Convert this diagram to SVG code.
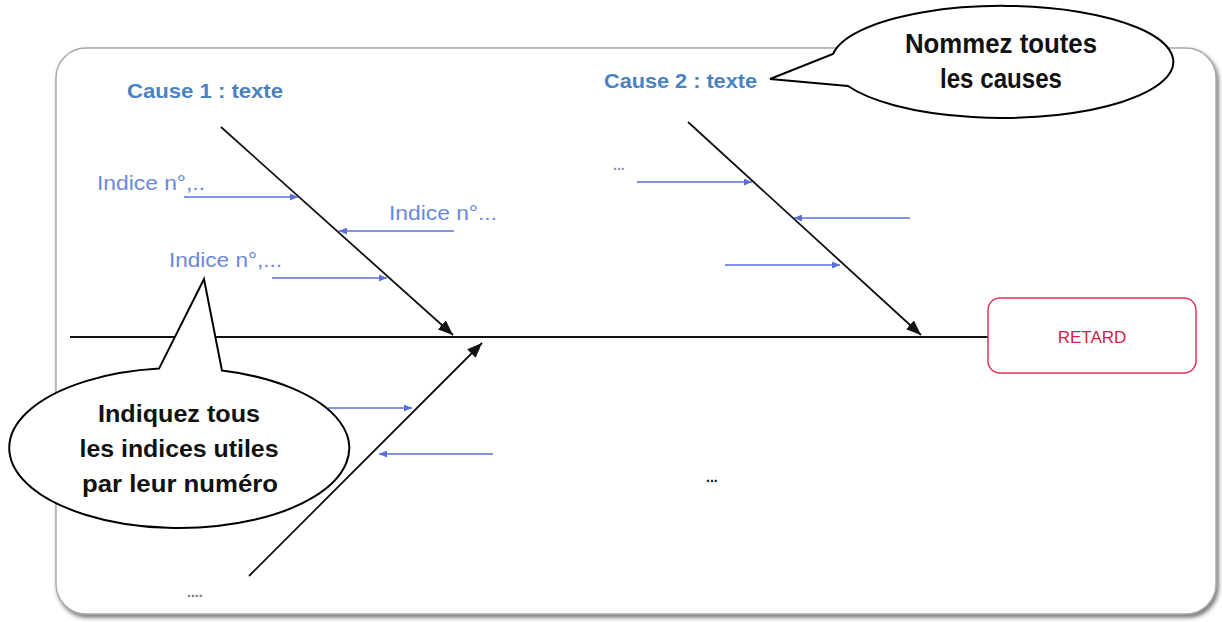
<svg xmlns="http://www.w3.org/2000/svg" width="1222" height="622" viewBox="0 0 1222 622">
  <style>
    .bone { stroke: #111; stroke-width: 1.8; fill: none; }
    .sub { stroke: #5a6fdc; stroke-width: 1.6; fill: none; }
    .cause { font-family: "Liberation Sans", Arial, sans-serif; font-weight: bold; font-size: 21px; fill: #4a82c2; }
    .ind { font-family: "Liberation Sans", Arial, sans-serif; font-size: 21px; fill: #6a88dc; }
    .call { fill: #fff; stroke: #000; stroke-width: 2; }
    .ctext { font-family: "Liberation Sans", Arial, sans-serif; font-weight: bold; fill: #111; text-anchor: middle; }
    .dots { font-family: "Liberation Sans", Arial, sans-serif; font-weight: bold; font-size: 14px; }
  </style>
  <defs>
    <filter id="sh" x="-5%" y="-5%" width="110%" height="115%">
      <feDropShadow dx="2" dy="3" stdDeviation="2" flood-color="#555" flood-opacity="0.8"/>
    </filter>
    <marker id="ah" markerUnits="userSpaceOnUse" markerWidth="16" markerHeight="12" refX="15" refY="6" orient="auto">
      <path d="M0,0 L15,6 L0,12 z" fill="#111"/>
    </marker>
    <marker id="bh" markerUnits="userSpaceOnUse" markerWidth="9" markerHeight="7" refX="8" refY="3.5" orient="auto">
      <path d="M0,0 L8,3.5 L0,7 z" fill="#5a6fdc"/>
    </marker>
  </defs>

  <rect x="0" y="0" width="1222" height="622" fill="#fff"/>
  <g id="panel">
    <rect x="56" y="48" width="1160" height="566" rx="30" fill="#fff" stroke="#aaa" stroke-width="1.5" filter="url(#sh)"/>
  </g>

  <g id="connectors">
    <line class="bone" x1="70" y1="337" x2="988" y2="337"/>
    <line class="bone" x1="221" y1="127" x2="453" y2="335" marker-end="url(#ah)"/>
    <line class="bone" x1="688" y1="122" x2="921" y2="335" marker-end="url(#ah)"/>
    <line class="bone" x1="249" y1="576" x2="482" y2="343" marker-end="url(#ah)"/>

    <line class="sub" x1="184" y1="197" x2="298" y2="197" marker-end="url(#bh)"/>
    <line class="sub" x1="454" y1="231" x2="339" y2="231" marker-end="url(#bh)"/>
    <line class="sub" x1="272" y1="278" x2="387" y2="278" marker-end="url(#bh)"/>

    <line class="sub" x1="637" y1="182" x2="752" y2="182" marker-end="url(#bh)"/>
    <line class="sub" x1="910" y1="218" x2="794" y2="218" marker-end="url(#bh)"/>
    <line class="sub" x1="725" y1="265" x2="840" y2="265" marker-end="url(#bh)"/>

    <line class="sub" x1="328" y1="408" x2="412" y2="408" marker-end="url(#bh)"/>
    <line class="sub" x1="493" y1="454" x2="379" y2="454" marker-end="url(#bh)"/>
  </g>

  <g id="retard">
    <rect x="988" y="298" width="208" height="75" rx="12" fill="#fff" stroke="#e0355a" stroke-width="1.5"/>
    <text x="1092" y="343" font-family="Liberation Sans, Arial, sans-serif" font-size="17" fill="#d42048" text-anchor="middle">RETARD</text>
  </g>

  <g id="cause1">
    <text class="cause" x="127" y="98" textLength="156" lengthAdjust="spacingAndGlyphs">Cause 1 : texte</text>
  </g>
  <g id="cause2">
    <text class="cause" x="604" y="88" textLength="153" lengthAdjust="spacingAndGlyphs">Cause 2 : texte</text>
  </g>

  <g id="indices">
    <text class="ind" x="97" y="190" textLength="108" lengthAdjust="spacingAndGlyphs">Indice n°,..</text>
    <text class="ind" x="389" y="220" textLength="108" lengthAdjust="spacingAndGlyphs">Indice n°...</text>
    <text class="ind" x="169" y="267" textLength="113" lengthAdjust="spacingAndGlyphs">Indice n°,...</text>
    <text class="dots" x="613" y="170" fill="#8a8fb0" font-size="11">...</text>
    <text class="dots" x="706" y="482" fill="#111">...</text>
    <text class="dots" x="187" y="597" fill="#777" font-size="12">....</text>
  </g>

  <g id="callout-causes">
    <path class="call" d="M 833,54 A 171,56 0 1 1 848,86 L 770,79 Z"/>
    <text class="ctext" x="1001" y="53" font-size="27" textLength="192" lengthAdjust="spacingAndGlyphs">Nommez toutes</text>
    <text class="ctext" x="1001" y="88" font-size="27" textLength="122" lengthAdjust="spacingAndGlyphs">les causes</text>
  </g>

  <g id="callout-indices">
    <path class="call" d="M 222,370.6 A 170,80 0 1 1 159,368.6 L 204,279 Z"/>
    <text class="ctext" x="179" y="422" font-size="23" textLength="162" lengthAdjust="spacingAndGlyphs">Indiquez tous</text>
    <text class="ctext" x="179" y="457" font-size="23" textLength="199" lengthAdjust="spacingAndGlyphs">les indices utiles</text>
    <text class="ctext" x="180" y="492" font-size="23" textLength="196" lengthAdjust="spacingAndGlyphs">par leur numéro</text>
  </g>
</svg>
